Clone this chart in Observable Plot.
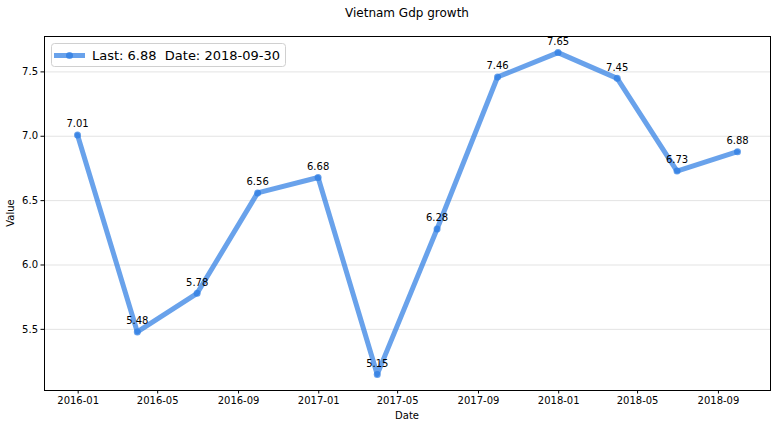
<!DOCTYPE html>
<html>
<head>
<meta charset="utf-8">
<script src="https://cdn.jsdelivr.net/npm/d3@7"></script>
<script src="https://cdn.jsdelivr.net/npm/@observablehq/plot@0.6"></script>
<style>
  html, body { margin: 0; padding: 0; background: #fff; }
  svg { font-family: "DejaVu Sans", sans-serif; }
</style>
</head>
<body>
<div id="chart"></div>
<script>
const dates = ["2015-12-31","2016-03-31","2016-06-30","2016-09-30","2016-12-31","2017-03-31",
               "2017-06-30","2017-09-30","2017-12-31","2018-03-31","2018-06-30","2018-09-30"];
const values = [7.01, 5.48, 5.78, 6.56, 6.68, 5.15, 6.28, 7.46, 7.65, 7.45, 6.73, 6.88];
const yTicks = [5.5, 6.0, 6.5, 7.0, 7.5];
const title = "Vietnam Gdp growth";
const xLabel = "Date";
const yLabel = "Value";

const data = dates.map((d, i) => ({date: new Date(d + "T00:00:00Z"), value: values[i]}));
const last = data[data.length - 1];
const legendText = `Last: ${last.value.toFixed(2)}  Date: ${dates[dates.length - 1]}`;

// matplotlib-like 5% margins
const t0 = +data[0].date, t1 = +last.date, dt = (t1 - t0) * 0.05;
const vmin = d3.min(values), vmax = d3.max(values), dv = (vmax - vmin) * 0.05;

const color = "#2a7ae2";

const chart = Plot.plot({
  width: 776,
  height: 428,
  marginTop: 36,
  marginLeft: 44,
  marginRight: 6,
  marginBottom: 38,
  style: {fontFamily: "DejaVu Sans, sans-serif", fontSize: "10px", color: "#000"},
  x: {type: "utc", domain: [new Date(t0 - dt), new Date(t1 + dt)]},
  y: {domain: [vmin - dv, vmax + dv]},
  marks: [
    Plot.gridY(yTicks, {stroke: "#e3e3e3", strokeOpacity: 1, strokeWidth: 1}),
    Plot.axisX({ticks: d3.utcMonth.every(4), tickFormat: d3.utcFormat("%Y-%m"), tickSize: 3.5, tickPadding: 3, label: null, fontSize: 10}),
    Plot.axisY({ticks: yTicks, tickFormat: d3.format(".1f"), tickSize: 3.5, tickPadding: 3, label: null, fontSize: 10}),
    Plot.lineY(data, {x: "date", y: "value", stroke: color, strokeOpacity: 0.7, strokeWidth: 5}),
    Plot.dot(data, {x: "date", y: "value", r: 3.5, fill: color, fillOpacity: 0.7, stroke: "none"}),
    Plot.text(data, {x: "date", y: "value", text: d => d.value.toFixed(2), dy: -11, fontSize: 10, fill: "#000"}),
    Plot.frame({stroke: "#000", strokeWidth: 1})
  ]
});

const svg = d3.select(chart);
// title
svg.append("text").attr("x", 407).attr("y", 17).attr("text-anchor", "middle")
  .style("font-size", "12px").attr("fill", "#000").text(title);
// axis labels
svg.append("text").attr("x", 407).attr("y", 419).attr("text-anchor", "middle")
  .style("font-size", "10px").attr("fill", "#000").text(xLabel);
svg.append("text").attr("transform", "translate(14,213) rotate(-90)").attr("text-anchor", "middle")
  .style("font-size", "10px").attr("fill", "#000").text(yLabel);
// legend
const lg = svg.append("g");
lg.append("rect").attr("x", 51.5).attr("y", 43.5).attr("width", 234).attr("height", 23).attr("rx", 3)
  .attr("fill", "#fff").attr("fill-opacity", 0.8).attr("stroke", "#d0d0d0");
lg.append("line").attr("x1", 54).attr("x2", 85).attr("y1", 55.5).attr("y2", 55.5)
  .attr("stroke", color).attr("stroke-opacity", 0.7).attr("stroke-width", 5);
lg.append("circle").attr("cx", 69.5).attr("cy", 55.5).attr("r", 3.5).attr("fill", color).attr("fill-opacity", 0.7);
lg.append("text").attr("x", 92).attr("y", 60).attr("text-anchor", "start")
  .style("font-size", "13px").attr("fill", "#000")
  .attr("xml:space", "preserve").style("white-space", "pre").text(legendText);

document.getElementById("chart").appendChild(chart);
</script>
</body>
</html>
